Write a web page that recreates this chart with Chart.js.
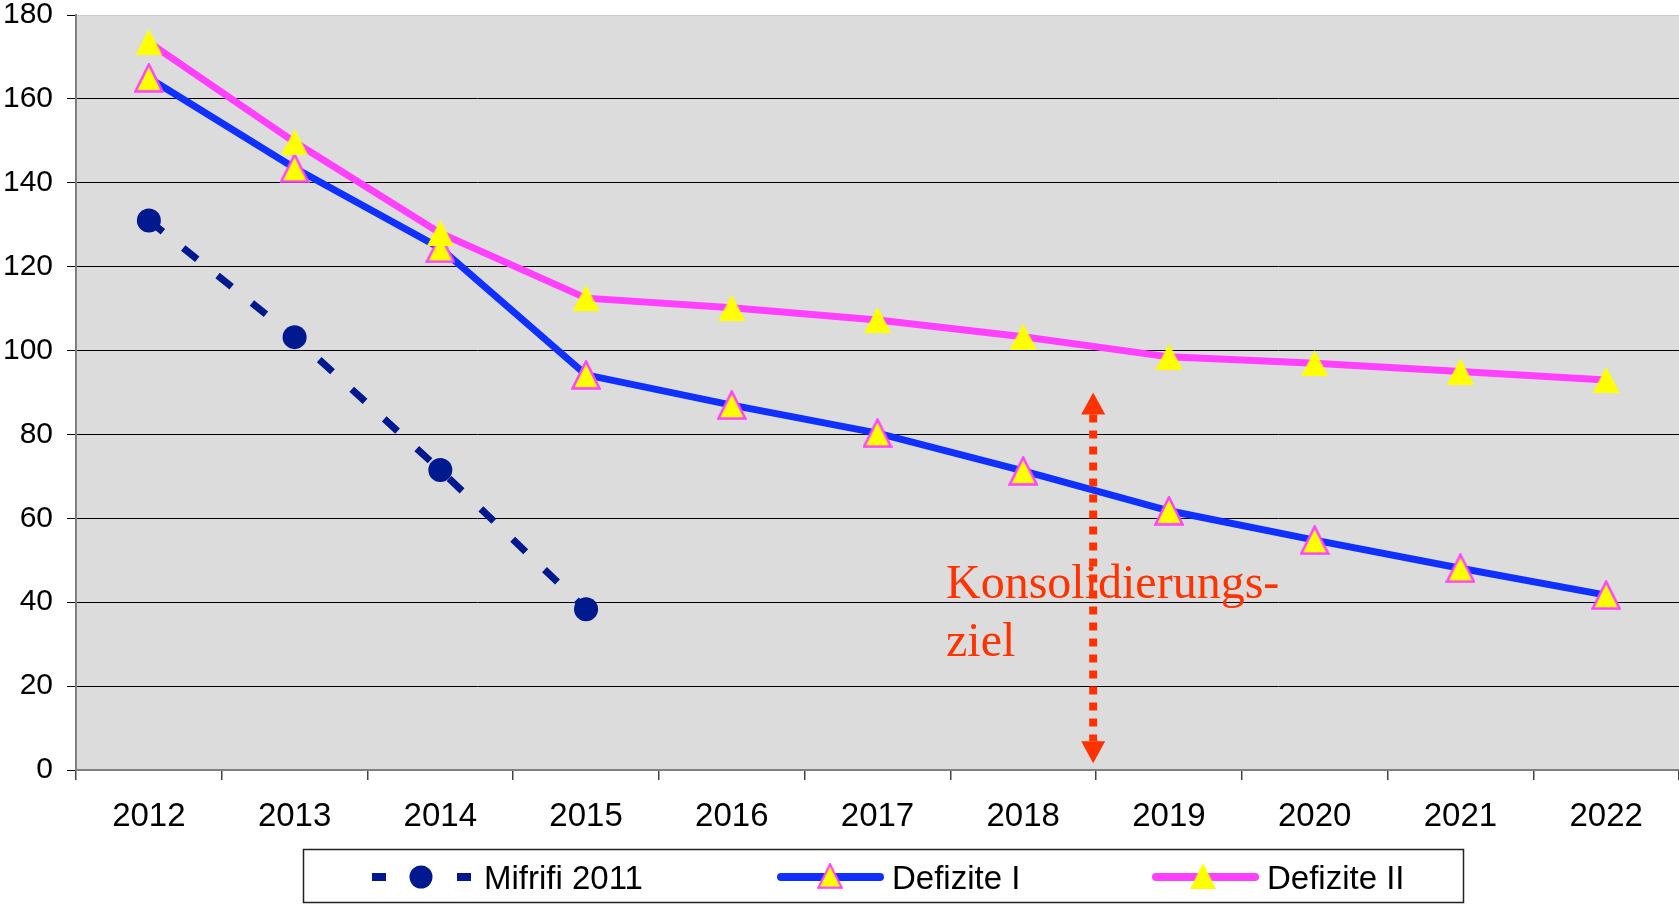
<!DOCTYPE html>
<html>
<head>
<meta charset="utf-8">
<script src="https://cdn.jsdelivr.net/npm/chart.js@4/dist/chart.umd.min.js"></script>
<style>
    html, body { margin: 0; padding: 0; background: #fff; }
    #wrap { width: 1679px; height: 906px; }
</style>
</head>
<body>
<div id="wrap"><canvas id="mychart" width="1679" height="906"></canvas></div>
<script>
// Daten (Mrd. Euro)
const years = ['2012', '2013', '2014', '2015', '2016', '2017', '2018', '2019', '2020', '2021', '2022'];
const mifrifi2011 = [131, 103.2, 71.5, 38.3, null, null, null, null, null, null, null];
const defiziteI = [165, 143.5, 124.4, 94.2, 87, 80.3, 71.3, 61.8, 54.8, 48.1, 41.7];
const defiziteII = [173.5, 149.7, 128, 112.5, 110.2, 107.3, 103.3, 98.5, 97, 95, 93];
const seriesNames = ['Mifrifi 2011', 'Defizite I', 'Defizite II'];
const yMin = 0, yMax = 180, yStep = 20;

// Pfeil "Konsolidierungsziel"
const zielText = ['Konsolidierungs-', 'ziel'];
const zielArrow = { at: 6.48, from: 90, to: 1.6 };
const zielTextPos = { at: 5.47, lines: [41, 27.2] };

const NAVY = '#00198F';
const BLUE = '#1030FF';
const PINK = '#FF40FF';
const YELLOW = '#FFFF00';
const RED = '#FF3300';

// Dreiecke als Bild, damit Breite/Hoehe wie im Original
function makeTriangle(w, h, border) {
    const c = document.createElement('canvas');
    c.width = w; c.height = h;
    const g = c.getContext('2d');
    const b = border ? 1.5 : 0;
    g.beginPath();
    g.moveTo(w / 2, b);
    g.lineTo(w - b, h - b);
    g.lineTo(b, h - b);
    g.closePath();
    g.fillStyle = YELLOW;
    g.fill();
    if (border) {
        g.lineWidth = 2.5;
        g.strokeStyle = border;
        g.lineJoin = 'miter';
        g.stroke();
    }
    return c;
}
const triBorder = makeTriangle(30, 30, PINK);
const triPlain = makeTriangle(27, 26, null);

const plotBg = {
    id: 'plotBg',
    beforeDraw(chart) {
        const { ctx, chartArea: a } = chart;
        ctx.save();
        ctx.fillStyle = '#DCDCDC';
        ctx.fillRect(a.left, a.top, a.right - a.left, a.bottom - a.top);
        ctx.restore();
    }
};

const zielPlugin = {
    id: 'ziel',
    afterDatasetsDraw(chart) {
        const ctx = chart.ctx;
        const xs = chart.scales.x, ys = chart.scales.y;
        const x = xs.getPixelForValue(zielArrow.at);
        const yTop = ys.getPixelForValue(zielArrow.from);
        const yBot = ys.getPixelForValue(zielArrow.to);
        const headH = 22, headW = 12;

        ctx.save();
        ctx.font = '48px "Liberation Serif", "Times New Roman", serif';
        ctx.fillStyle = RED;
        ctx.textBaseline = 'alphabetic';
        const tx = xs.getPixelForValue(zielTextPos.at);
        zielText.forEach((t, i) => ctx.fillText(t, tx, ys.getPixelForValue(zielTextPos.lines[i])));

        ctx.strokeStyle = RED;
        ctx.lineWidth = 8;
        ctx.setLineDash([8, 8]);
        ctx.beginPath();
        ctx.moveTo(x, yTop + headH);
        ctx.lineTo(x, yBot - headH);
        ctx.stroke();
        ctx.setLineDash([]);

        ctx.fillStyle = RED;
        ctx.beginPath();
        ctx.moveTo(x, yTop);
        ctx.lineTo(x + headW, yTop + headH);
        ctx.lineTo(x - headW, yTop + headH);
        ctx.closePath();
        ctx.fill();
        ctx.beginPath();
        ctx.moveTo(x, yBot);
        ctx.lineTo(x + headW, yBot - headH);
        ctx.lineTo(x - headW, yBot - headH);
        ctx.closePath();
        ctx.fill();
        ctx.restore();
    }
};

// Legende unten im Kasten
const legendBox = {
    id: 'legendBox',
    afterDraw(chart) {
        const ctx = chart.ctx;
        const cy = 877;
        ctx.save();
        ctx.fillStyle = '#fff';
        ctx.fillRect(303, 849, 1161, 54);
        ctx.strokeStyle = '#222';
        ctx.lineWidth = 1.5;
        ctx.strokeRect(303.5, 849.5, 1160, 53);

        // Mifrifi 2011
        ctx.fillStyle = NAVY;
        ctx.fillRect(372, cy - 4, 14, 8);
        ctx.fillRect(457, cy - 4, 14, 8);
        ctx.beginPath();
        ctx.arc(421, cy, 11.5, 0, Math.PI * 2);
        ctx.fill();

        // Defizite I
        ctx.lineCap = 'round';
        ctx.lineWidth = 8;
        ctx.strokeStyle = BLUE;
        ctx.beginPath();
        ctx.moveTo(781, cy);
        ctx.lineTo(880, cy);
        ctx.stroke();
        ctx.drawImage(triBorder, 830 - 13, cy - 14, 26, 26);

        // Defizite II
        ctx.strokeStyle = PINK;
        ctx.beginPath();
        ctx.moveTo(1156, cy);
        ctx.lineTo(1255, cy);
        ctx.stroke();
        ctx.drawImage(triPlain, 1203 - 13, cy - 14, 26, 26);

        ctx.fillStyle = '#000';
        ctx.font = '33px "Liberation Sans", Arial, sans-serif';
        ctx.textBaseline = 'alphabetic';
        ctx.fillText(seriesNames[0], 484, 889);
        ctx.fillText(seriesNames[1], 892, 889);
        ctx.fillText(seriesNames[2], 1267, 889);
        ctx.restore();
    }
};

const ctx = document.getElementById('mychart');
const myChart = new Chart(ctx, {
    type: 'line',
    data: {
        labels: years,
        datasets: [{
            label: seriesNames[0],
            data: mifrifi2011,
            borderColor: NAVY,
            backgroundColor: NAVY,
            borderWidth: 7,
            borderDash: [18, 26],
            pointStyle: 'circle',
            pointRadius: 12,
            pointBorderWidth: 0,
            order: 3,
        }, {
            label: seriesNames[1],
            data: defiziteI,
            borderColor: BLUE,
            backgroundColor: YELLOW,
            borderWidth: 7,
            pointStyle: triBorder,
            order: 2,
        }, {
            label: seriesNames[2],
            data: defiziteII,
            borderColor: PINK,
            backgroundColor: YELLOW,
            borderWidth: 7,
            pointStyle: triPlain,
            order: 1,
        }],
    },
    options: {
        responsive: false,
        animation: false,
        devicePixelRatio: 1,
        events: [],
        layout: { autoPadding: false, padding: { top: 15, left: 0, right: 0, bottom: 56 } },
        plugins: {
            legend: { display: false },
            tooltip: { enabled: false },
        },
        scales: {
            x: {
                offset: true,
                grid: {
                    offset: true,
                    drawOnChartArea: false,
                    tickLength: 10,
                    color: '#444',
                    lineWidth: 1.5,
                },
                border: { color: '#808080', width: 2 },
                ticks: {
                    color: '#000',
                    padding: 17,
                    maxRotation: 0,
                    font: { family: '"Liberation Sans", Arial, sans-serif', size: 33 },
                },
                afterFit(scale) {
                    scale.height = 80;
                    scale.paddingLeft = 0;
                    scale.paddingRight = 0;
                },
            },
            y: {
                min: yMin,
                max: yMax,
                grid: {
                    tickLength: 9,
                    lineWidth: 1,
                    color: (c) => c.tick.value === yMax ? 'rgba(0,0,0,0.08)' : (c.tick.value === yMin ? '#808080' : '#000'),
                    tickColor: '#000',
                },
                border: { color: '#808080', width: 2 },
                ticks: {
                    stepSize: yStep,
                    color: '#000',
                    padding: 14,
                    font: { family: '"Liberation Sans", Arial, sans-serif', size: 30, lineHeight: 1 },
                },
                afterFit(scale) {
                    scale.width = 76;
                    scale.paddingTop = 0;
                    scale.paddingBottom = 0;
                },
            },
        },
    },
    plugins: [plotBg, zielPlugin, legendBox],
});
</script>
</body>
</html>
